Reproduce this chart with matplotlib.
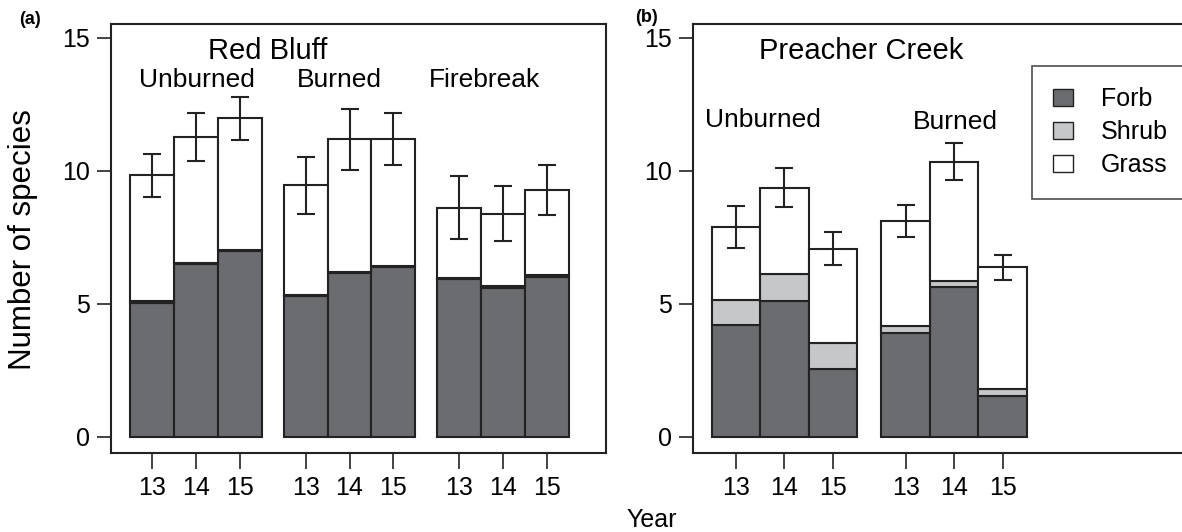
import matplotlib
matplotlib.use('Agg')
import matplotlib.pyplot as plt
import numpy as np
from matplotlib.patches import Patch

plt.rcParams['font.family'] = ['Liberation Sans', 'DejaVu Sans']

years = ['13', '14', '15']

# Red Bluff: Unburned, Burned, Firebreak x 2013-2015
rb_forb = [5.04, 6.50, 6.99, 5.30, 6.14, 6.39, 5.92, 5.60, 5.99]
rb_shrub = [0.06, 0.03, 0.03, 0.02, 0.04, 0.04, 0.04, 0.06, 0.10]
rb_total = [9.83, 11.27, 11.97, 9.45, 11.18, 11.20, 8.62, 8.39, 9.28]
rb_err = [0.80, 0.90, 0.82, 1.07, 1.15, 0.99, 1.17, 1.03, 0.95]

# Preacher Creek: Unburned, Burned x 2013-2015
pc_forb = [4.19, 5.11, 2.55, 3.90, 5.64, 1.53]
pc_shrub = [0.96, 1.01, 0.96, 0.27, 0.21, 0.26]
pc_total = [7.88, 9.37, 7.07, 8.13, 10.35, 6.37]
pc_err = [0.80, 0.72, 0.63, 0.60, 0.71, 0.46]

forb_col = '#6b6c70'
shrub_col = '#c6c7c9'
grass_col = 'white'


def positions(ngroups, gap=0.5):
    x = []
    for g in range(ngroups):
        for i in range(3):
            x.append(g * (3 + gap) + i + 0.5)
    return np.array(x)


def stacked(ax, x, forb, shrub, total, err):
    forb = np.array(forb)
    shrub = np.array(shrub)
    grass = np.array(total) - forb - shrub
    kw = dict(width=1.0, edgecolor='#222222', linewidth=1.5)
    ax.bar(x, forb, color=forb_col, **kw)
    ax.bar(x, shrub, bottom=forb, color=shrub_col, **kw)
    ax.bar(x, grass, bottom=forb + shrub, color=grass_col, **kw)
    ax.errorbar(x, total, yerr=err, fmt='none', ecolor='#222222',
                elinewidth=1.5, capsize=6.2, capthick=1.5)


def style(ax, x, xlim):
    ax.set_xlim(*xlim)
    ax.set_ylim(-0.61, 15.52)
    ax.set_yticks([0, 5, 10, 15])
    ax.set_xticks(x)
    ax.set_xticklabels(years * (len(x) // 3))
    ax.tick_params(axis='both', direction='out', width=1.2, color='#222222',
                   labelsize=18)
    ax.tick_params(axis='x', length=11.3, pad=5)
    ax.tick_params(axis='y', length=10, pad=5)
    for s in ax.spines.values():
        s.set_linewidth(1.5)
        s.set_color('#222222')


fig = plt.figure(figsize=(11.82, 5.32), dpi=100)
W, H = 1182.0, 532.0
axa = fig.add_axes([111 / W, (H - 453) / H, 495 / W, 429 / H])
axb = fig.add_axes([693 / W, (H - 453) / H, 495 / W, 429 / H])

xa = positions(3)
stacked(axa, xa, rb_forb, rb_shrub, rb_total, rb_err)
style(axa, xa, (-0.433, 10.843))
axa.text(3.13, 14.5, 'Red Bluff', ha='center', va='center', fontsize=21)
for xx, lab in zip([1.53, 4.76, 8.08], ['Unburned', 'Burned', 'Firebreak']):
    axa.text(xx, 13.41, lab, ha='center', va='center', fontsize=19)

xb = positions(2)
stacked(axb, xb, pc_forb, pc_shrub, pc_total, pc_err)
style(axb, xb, (-0.386, 9.82))
axb.text(3.09, 14.5, 'Preacher Creek', ha='center', va='center', fontsize=21)
axb.text(1.05, 11.9, 'Unburned', ha='center', va='center', fontsize=19)
axb.text(5.02, 11.84, 'Burned', ha='center', va='center', fontsize=19)

handles = [Patch(facecolor=forb_col, edgecolor='#222222', label='Forb'),
           Patch(facecolor=shrub_col, edgecolor='#222222', label='Shrub'),
           Patch(facecolor=grass_col, edgecolor='#222222', label='Grass')]
leg = axb.legend(handles=handles, loc='upper left',
                 bbox_to_anchor=((1032 - 693) / 495, (453 - 66) / 429),
                 fontsize=18, frameon=True, fancybox=False,
                 handlelength=0.8, handleheight=0.7, handletextpad=1.1,
                 labelspacing=0.36, borderpad=0.85, borderaxespad=0)
leg.get_frame().set_edgecolor('#222222')
leg.get_frame().set_linewidth(1.2)

fig.text(23 / W, 1 - 240 / H, 'Number of species', rotation=90,
         ha='center', va='center', fontsize=22.5)
fig.text(652 / W, 1 - 520 / H, 'Year', ha='center', va='center', fontsize=18)
fig.text(30 / W, 1 - 20 / H, '(a)', ha='center', va='center', fontsize=13,
         fontweight='bold')
fig.text(646 / W, 1 - 17 / H, '(b)', ha='center', va='center', fontsize=13,
         fontweight='bold')

fig.savefig('out.png', dpi=100)
